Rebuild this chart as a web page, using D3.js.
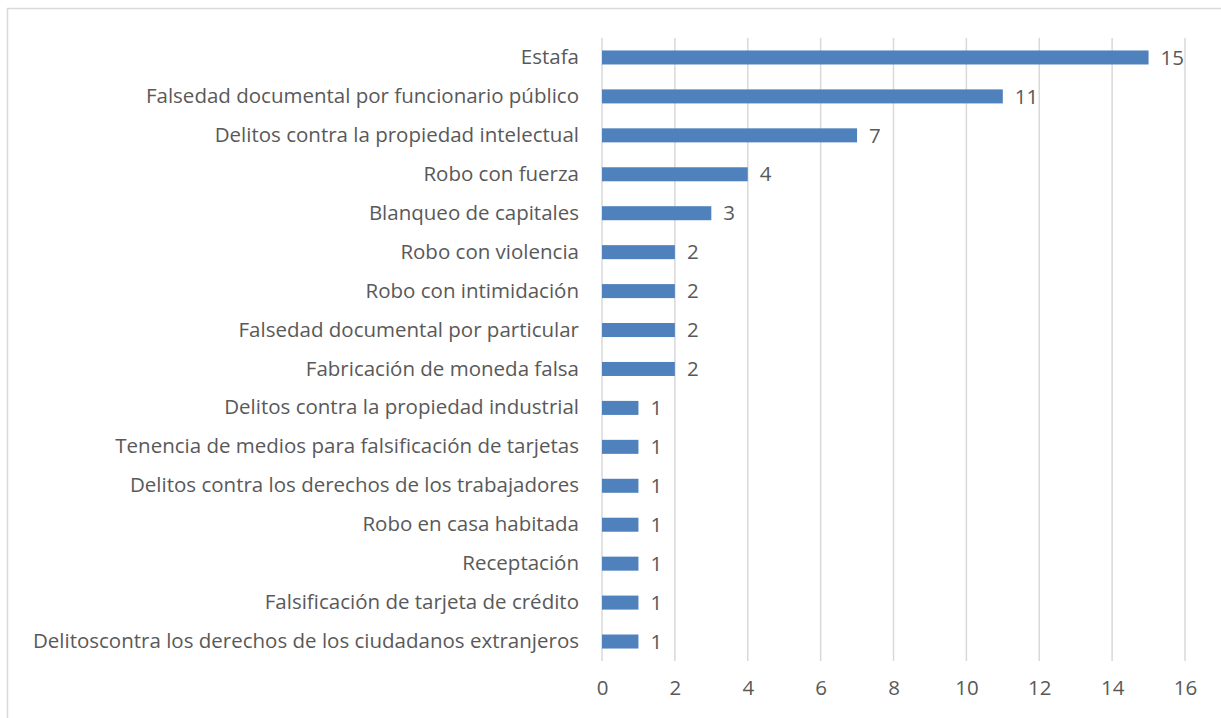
<!DOCTYPE html>
<html>
<head>
<meta charset="utf-8">
<script src="https://cdn.jsdelivr.net/npm/d3@7"></script>
<style>
  body { margin: 0; background: #fff; }
  text { font-family: "Open Sans", sans-serif; fill: #595959; }
</style>
</head>
<body>
<div id="chart"></div>
<script>
// data, top bar first
const categories = [
  "Estafa",
  "Falsedad documental por funcionario público",
  "Delitos contra la propiedad intelectual",
  "Robo con fuerza",
  "Blanqueo de capitales",
  "Robo con violencia",
  "Robo con intimidación",
  "Falsedad documental por particular",
  "Fabricación de moneda falsa",
  "Delitos contra la propiedad industrial",
  "Tenencia de medios para falsificación de tarjetas",
  "Delitos contra los derechos de los trabajadores",
  "Robo en casa habitada",
  "Receptación",
  "Falsificación de tarjeta de crédito",
  "Delitoscontra los derechos de los ciudadanos extranjeros"
];
const values = [15, 11, 7, 4, 3, 2, 2, 2, 2, 1, 1, 1, 1, 1, 1, 1];
const xTicks = [0, 2, 4, 6, 8, 10, 12, 14, 16];

const W = 1221, H = 718;
const margin = {top: 38, right: 36, bottom: 57, left: 602};
const fontSize = 20.5;

const svg = d3.select("#chart").append("svg")
  .attr("width", W)
  .attr("height", H);

// chart frame
svg.append("rect")
  .attr("x", 7.5).attr("y", 8.5)
  .attr("width", W + 20).attr("height", H + 20)
  .attr("fill", "none")
  .attr("stroke", "#d9d9d9")
  .attr("stroke-width", 1.5);

const x = d3.scaleLinear()
  .domain([0, 16])
  .range([margin.left, W - margin.right]);

const y = d3.scaleBand()
  .domain(categories)
  .range([margin.top, H - margin.bottom])
  .paddingInner(0.64)
  .paddingOuter(0.32);

// gridlines
svg.append("g")
  .selectAll("line")
  .data(xTicks)
  .join("line")
  .attr("x1", d => x(d)).attr("x2", d => x(d))
  .attr("y1", margin.top).attr("y2", H - margin.bottom)
  .attr("stroke", "#d9d9d9")
  .attr("stroke-width", 1.5);

// x axis labels
svg.append("g")
  .attr("transform", `translate(0,${H - margin.bottom})`)
  .call(d3.axisBottom(x).tickValues(xTicks).tickSize(0).tickPadding(19))
  .call(g => g.select(".domain").remove())
  .call(g => g.selectAll("text")
    .attr("font-size", fontSize)
    .style("font-family", "'Open Sans', sans-serif")
    .attr("fill", "#595959"));

// y axis labels
svg.append("g")
  .attr("transform", `translate(${margin.left},0)`)
  .call(d3.axisLeft(y).tickSize(0).tickPadding(23))
  .call(g => g.select(".domain").remove())
  .call(g => g.selectAll("text")
    .attr("font-size", fontSize)
    .style("font-family", "'Open Sans', sans-serif")
    .attr("fill", "#595959"));

// bars
svg.append("g")
  .selectAll("rect")
  .data(values)
  .join("rect")
  .attr("x", x(0))
  .attr("y", (d, i) => y(categories[i]))
  .attr("width", d => x(d) - x(0))
  .attr("height", y.bandwidth())
  .attr("fill", "#4f81bd");

// value labels
svg.append("g")
  .selectAll("text")
  .data(values)
  .join("text")
  .attr("x", d => x(d) + 12)
  .attr("y", (d, i) => y(categories[i]) + y.bandwidth() / 2)
  .attr("dy", "0.35em")
  .attr("font-size", fontSize)
  .text(d => d);
</script>
</body>
</html>
